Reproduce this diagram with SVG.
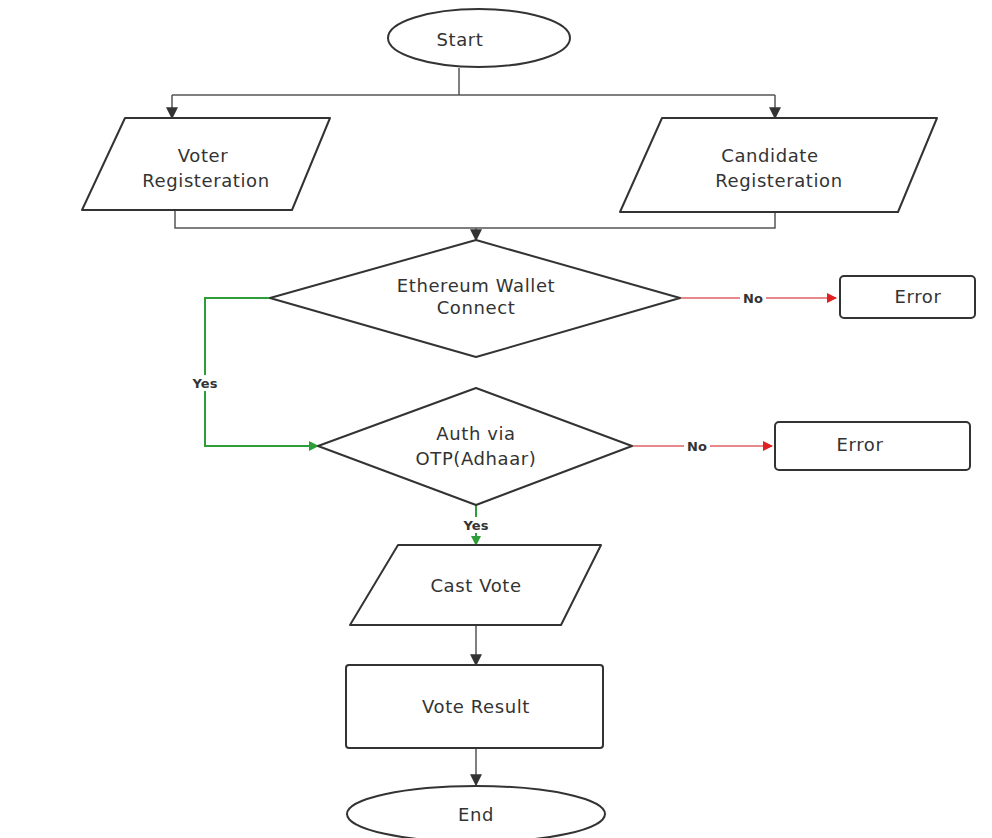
<svg xmlns="http://www.w3.org/2000/svg" width="992" height="838" viewBox="0 0 992 838">
<defs>
<style>
.s{fill:#fff;stroke:#333;stroke-width:2;stroke-linejoin:round}
.t{font-family:"DejaVu Sans",sans-serif;font-size:18px;letter-spacing:0.6px;fill:#333;text-anchor:middle;dominant-baseline:middle}
.l{font-family:"DejaVu Sans",sans-serif;font-size:13px;font-weight:bold;fill:#333;text-anchor:middle;dominant-baseline:middle}
.c{fill:none;stroke:#555;stroke-width:1.5}
.g{fill:none;stroke:#2e9e3a;stroke-width:2}
.r{fill:none;stroke:#e06060;stroke-width:1.5}
</style>
<marker id="ak" viewBox="0 0 10 10" refX="9" refY="5" markerWidth="12" markerHeight="12" orient="auto" markerUnits="userSpaceOnUse"><path d="M0,0L10,5L0,10z" fill="#333"/></marker>
<marker id="ag" viewBox="0 0 10 10" refX="9" refY="5" markerWidth="12" markerHeight="10" orient="auto" markerUnits="userSpaceOnUse"><path d="M0,0L10,5L0,10z" fill="#2e9e3a"/></marker>
<marker id="ar" viewBox="0 0 10 10" refX="9" refY="5" markerWidth="12" markerHeight="10" orient="auto" markerUnits="userSpaceOnUse"><path d="M0,0L10,5L0,10z" fill="#e02020"/></marker>
</defs>
<rect width="992" height="838" fill="#fff"/>
<g id="connectors">
<path class="c" d="M459,68V95M172,95H775"/>
<path class="c" d="M172,95V118" marker-end="url(#ak)"/>
<path class="c" d="M775,95V118" marker-end="url(#ak)"/>
<path class="c" d="M175,211V228H775V212"/>
<path class="c" d="M476,228V240" marker-end="url(#ak)"/>
<path class="r" d="M680,298H836" marker-end="url(#ar)"/>
<rect x="740" y="290" width="26" height="16" fill="#fff"/>
<text class="l" x="753" y="299">No</text>
<path class="g" d="M270,298H205V446H318" marker-end="url(#ag)"/>
<rect x="188" y="375" width="34" height="16" fill="#fff"/>
<text class="l" x="205" y="384">Yes</text>
<path class="r" d="M632,446H772" marker-end="url(#ar)"/>
<rect x="684" y="438" width="26" height="16" fill="#fff"/>
<text class="l" x="697" y="447">No</text>
<path class="g" d="M476,505V545" marker-end="url(#ag)"/>
<rect x="459" y="517" width="34" height="16" fill="#fff"/>
<text class="l" x="476" y="526">Yes</text>
<path class="c" d="M476,625V665" marker-end="url(#ak)"/>
<path class="c" d="M476,748V785" marker-end="url(#ak)"/>
</g>
<g id="start"><ellipse class="s" cx="479" cy="38" rx="91" ry="29"/><text class="t" x="460" y="41">Start</text></g>
<g id="voter"><path class="s" d="M125,118H330L292,210H82Z"/><text class="t" x="203" y="157">Voter</text><text class="t" x="206" y="182">Registeration</text></g>
<g id="candidate"><path class="s" d="M662,118H937L898,212H620Z"/><text class="t" x="770" y="157">Candidate</text><text class="t" x="779" y="182">Registeration</text></g>
<g id="wallet"><path class="s" d="M476,240L680,298L476,357L270,298Z"/><text class="t" x="476" y="287">Ethereum Wallet</text><text class="t" x="476" y="309">Connect</text></g>
<g id="error1"><rect class="s" x="840" y="276" width="135" height="42" rx="4"/><text class="t" x="918" y="298">Error</text></g>
<g id="auth"><path class="s" d="M476,388L632,446L476,505L318,446Z"/><text class="t" x="476" y="435">Auth via</text><text class="t" x="476" y="460">OTP(Adhaar)</text></g>
<g id="error2"><rect class="s" x="775" y="422" width="195" height="48" rx="4"/><text class="t" x="860" y="446">Error</text></g>
<g id="cast"><path class="s" d="M398,545H601L561,625H350Z"/><text class="t" x="476" y="587">Cast Vote</text></g>
<g id="result"><rect class="s" x="346" y="665" width="257" height="83" rx="3"/><text class="t" x="476" y="708">Vote Result</text></g>
<g id="end"><ellipse class="s" cx="476" cy="814" rx="129" ry="28"/><text class="t" x="476" y="816">End</text></g>
</svg>
